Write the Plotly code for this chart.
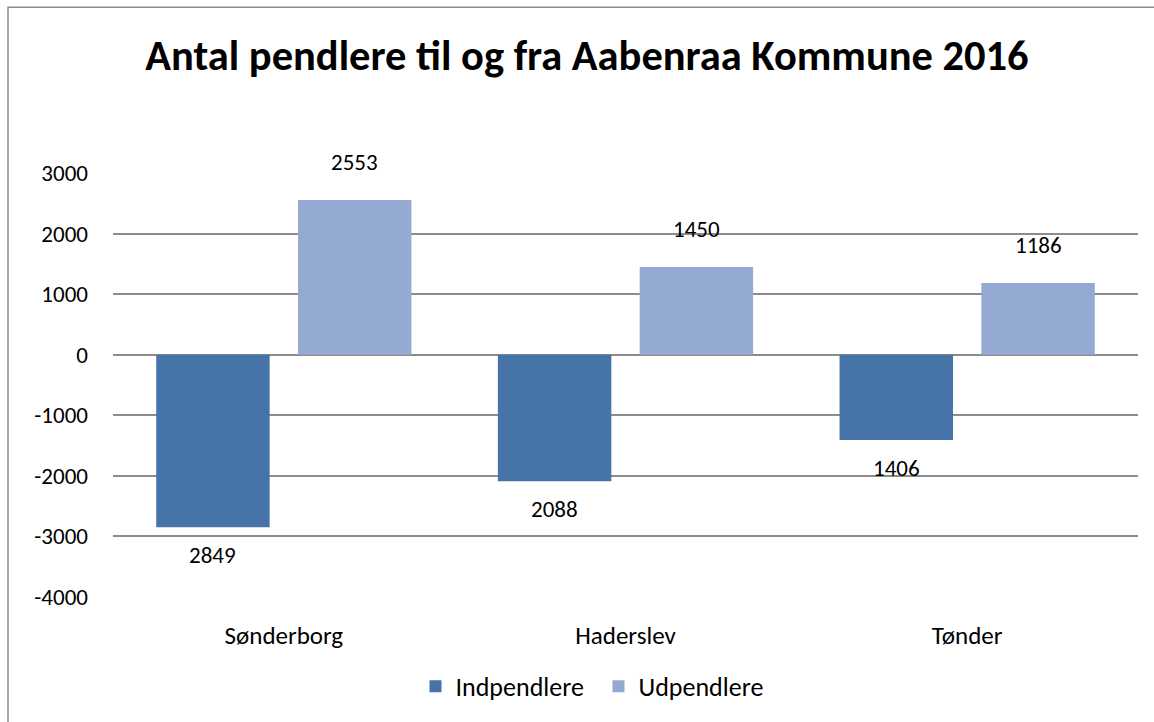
import plotly.graph_objects as go

categories = ["Sønderborg", "Haderslev", "Tønder"]
indpendlere = [2849, 2088, 1406]
udpendlere = [2553, 1450, 1186]
tick_values = [-4000, -3000, -2000, -1000, 0, 1000, 2000, 3000]
tick_labels = ["-4000", "-3000", "-2000", "-1000", "0", "1000", "2000", "3000"]

FONT = "Carlito, Calibri, Lato, sans-serif"
W, H = 1154, 722
ML, MR, MT, MB = 113, 16, 173, 122
BARGAP = 0.17
GROUPGAP = 0.2
DARK = "#4674A9"
LIGHT = "#94AAD3"
GRID = "#8C8C8C"

neg_in = [-v for v in indpendlere]

fig = go.Figure()
fig.add_trace(go.Bar(name="Indpendlere", x=categories, y=neg_in, marker_color=DARK,
                     marker_line_width=0))
fig.add_trace(go.Bar(name="Udpendlere", x=categories, y=udpendlere, marker_color=LIGHT,
                     marker_line_width=0))

plot_w = W - ML - MR
plot_h = H - MT - MB
slot = plot_w / len(categories) * (1 - BARGAP) / 2
annotations = []
for c, v in zip(categories, neg_in):
    annotations.append(dict(x=c, y=v, text=str(abs(v)), showarrow=False, xref="x", yref="y",
                            xshift=-slot / 2, yshift=-28, font=dict(size=23, color="#000", family=FONT)))
for c, v in zip(categories, udpendlere):
    annotations.append(dict(x=c, y=v, text=str(v), showarrow=False, xref="x", yref="y",
                            xshift=slot / 2, yshift=38, font=dict(size=23, color="#000", family=FONT)))

fig.update_layout(
    width=W, height=H,
    margin=dict(l=ML, r=MR, t=MT, b=MB),
    paper_bgcolor="white", plot_bgcolor="white",
    font=dict(family=FONT, size=23, color="#000"),
    title=dict(text="<b>Antal pendlere til og fra Aabenraa Kommune 2016</b>",
               x=587 / W, xanchor="center", y=1 - 55 / H, yanchor="middle", yref="container",
               font=dict(size=42.5, family=FONT, color="#000")),
    barmode="group", bargap=BARGAP, bargroupgap=GROUPGAP,
    showlegend=True,
    legend=dict(orientation="h", x=0.5 - 27 / plot_w, xanchor="center",
                y=-(690 - (H - MB)) / plot_h,
                yanchor="middle", font=dict(size=26, family=FONT), itemsizing="constant",
                itemwidth=30, entrywidthmode="pixels", entrywidth=138, traceorder="normal"),
    annotations=annotations,
    shapes=[dict(type="rect", xref="paper", yref="paper",
                 x0=(8 - ML) / plot_w, x1=1 + (MR + 40) / plot_w,
                 y0=-(MB + 40) / plot_h, y1=1 + (MT - 6) / plot_h,
                 line=dict(color="#8C8C8C", width=1.5), fillcolor="rgba(0,0,0,0)", layer="below")],
)
fig.update_yaxes(range=[-4000, 3000], tickvals=tick_values, ticktext=tick_labels,
                 showgrid=True, gridcolor=GRID, gridwidth=1.5, zeroline=True,
                 zerolinecolor=GRID, zerolinewidth=1.5, showline=False,
                 ticklabelstandoff=24, tickfont=dict(size=23, family=FONT))
fig.update_xaxes(showgrid=False, showline=False, tickfont=dict(size=25, family=FONT),
                 ticklabelstandoff=21)

fig.write_html("out.html", config={"displayModeBar": False},
               post_script="document.body.style.margin='0';document.body.style.overflow='hidden';")
